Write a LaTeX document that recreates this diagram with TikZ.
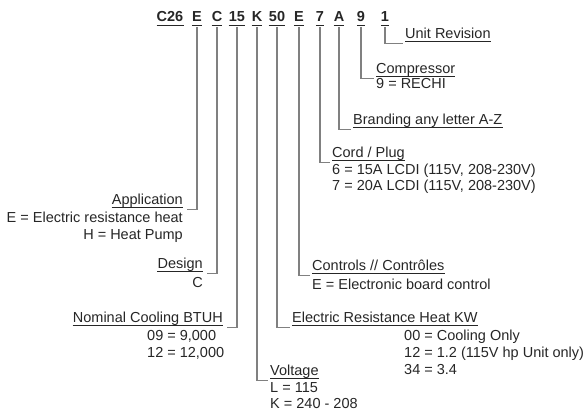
\documentclass[tikz,border=0pt]{standalone}
\usepackage{fontspec}
\setmainfont{Liberation Sans}
\definecolor{txt}{HTML}{262626}
\definecolor{ln}{HTML}{808080}
\tikzset{
 lab/.style={inner sep=0pt, font=\fontsize{14.5}{17}\selectfont, text=txt},
 labr/.style={lab, anchor=base west},
 labl/.style={lab, anchor=base east},
 codech/.style={inner sep=0pt, anchor=base, font=\bfseries\fontsize{14.5}{17}\selectfont, text=txt},
 conn/.style={draw=ln, line width=1.4pt},
 ulline/.style={draw=txt, line width=0.9pt},
}
\newcommand\ulnode[2][2.5pt]{\draw[ulline] ([yshift=-#1]#2.base west) -- ([yshift=-#1]#2.base east);}
\newcommand\rconn[2]{\draw[conn] ([yshift=-5pt]#1.base) |- ([xshift=-2pt,yshift=-4.5pt]#2.base west);}
\newcommand\lconn[2]{\draw[conn] ([yshift=-5pt]#1.base) |- ([xshift=4pt,yshift=-4.5pt]#2.base east);}
\begin{document}
\begin{tikzpicture}[x=1pt,y=-1pt]
\useasboundingbox (0,0) rectangle (587,411);
% code row
\node[codech] (c0) at (170,22) {C26};
\node[codech] (c1) at (197,22) {E};
\node[codech] (c2) at (217,22) {C};
\node[codech] (c3) at (237,22) {15};
\node[codech] (c4) at (257,22) {K};
\node[codech] (c5) at (277,22) {50};
\node[codech] (c6) at (299,22) {E};
\node[codech] (c7) at (320,22) {7};
\node[codech] (c8) at (339,22) {A};
\node[codech] (c9) at (361,22) {9};
\node[codech] (c10) at (385,22) {1};
\foreach \n in {c0,c1,c2,c3,c4,c5,c6,c7,c8,c9,c10} {\ulnode[3pt]{\n}}
% right labels
\node[labr] (ur) at (405,39) {Unit Revision};
\node[labr] (cp) at (376,74) {Compressor};
\node[labr] (cp1) at (376,89) {9 = RECHI};
\node[labr] (br) at (353,125) {Branding any letter A-Z};
\node[labr] (cd) at (332,158) {Cord / Plug};
\node[labr] (cd1) at (332,175) {6 = 15A LCDI (115V, 208-230V)};
\node[labr] (cd2) at (332,191) {7 = 20A LCDI (115V, 208-230V)};
\node[labr] (ct) at (312,271) {Controls // Contrôles};
\node[labr] (ct1) at (312,290) {E = Electronic board control};
\node[labr] (er) at (292,323) {Electric Resistance Heat KW};
\node[labr] (er1) at (404,341) {00 = Cooling Only};
\node[labr] (er2) at (404,358) {12 = 1.2 (115V hp Unit only)};
\node[labr] (er3) at (404,375) {34 = 3.4};
\node[labr] (vo) at (270,376) {Voltage};
\node[labr] (vo1) at (270,393) {L = 115};
\node[labr] (vo2) at (270,409) {K = 240 - 208};
% left labels
\node[labl] (nc) at (223,323) {Nominal Cooling BTUH};
\node[labr] (nc1) at (147,341) {09 = 9,000};
\node[labr] (nc2) at (147,358) {12 = 12,000};
\node[labl] (de) at (203,269) {Design};
\node[labl] (de1) at (203,288) {C};
\node[labl] (ap) at (183,205) {Application};
\node[labl] (ap1) at (183,223) {E = Electric resistance heat};
\node[labl] (ap2) at (183,240) {H = Heat Pump};
\foreach \n in {ur,cp,br,cd,ct,er,vo,nc,de,ap} {\ulnode{\n}}
% connectors
\rconn{c10}{ur}
\rconn{c9}{cp}
\rconn{c8}{br}
\rconn{c7}{cd}
\rconn{c6}{ct}
\rconn{c5}{er}
\rconn{c4}{vo}
\lconn{c3}{nc}
\lconn{c2}{de}
\lconn{c1}{ap}
\end{tikzpicture}
\end{document}
